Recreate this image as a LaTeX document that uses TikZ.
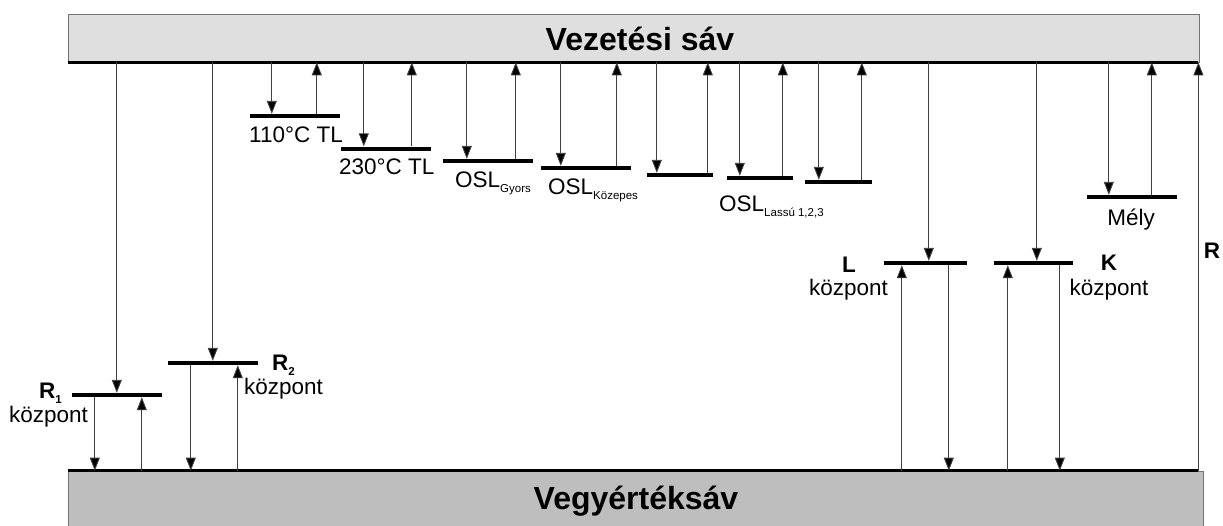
\documentclass[tikz,border=0pt]{standalone}
\usepackage{fontspec}
\setmainfont{Liberation Sans}
\usetikzlibrary{arrows.meta}
\definecolor{cbfill}{HTML}{DFDFDF}
\definecolor{vbfill}{HTML}{BEBEBE}
\tikzset{
  lvl/.style={fill=black, inner sep=0pt, minimum height=4pt, minimum width=#1},
  band/.style={draw=black!55, line width=0.8pt, inner sep=0pt},
  arr/.style={draw=black!75, line width=0.9pt, -{Triangle[width=10pt,length=13pt,fill=black]}},
  lbl/.style={font=\fontsize{22.5}{26}\selectfont, inner sep=0pt},
  blbl/.style={font=\fontsize{22.5}{26}\selectfont\bfseries, inner sep=0pt},
  title/.style={font=\fontsize{32}{36}\selectfont\bfseries, inner sep=0pt},
  edge/.style={line width=3pt}
}
\newcommand{\smallsub}[1]{\raisebox{-0.45ex}{\fontsize{11.5}{12}\selectfont #1}}
\begin{document}
\begin{tikzpicture}[x=1pt,y=-1pt]
\useasboundingbox (0,0) rectangle (1223,525);
% bands
\node[band, fill=cbfill, minimum width=1131pt, minimum height=48pt] (cb) at (633.5,38) {};
\node[title] (cbt) at (640,39) {Vezetési sáv};
\node[band, fill=vbfill, minimum width=1135pt, minimum height=70pt] (vb) at (635.5,506) {};
\node[title] (vbt) at (636,501) {Vegyértéksáv};
\draw[edge] (cb.south west) -- ([xshift=-1pt]cb.south east);
\draw[edge] (vb.north west) -- ([xshift=-5pt]vb.north east);
% levels
\node[lvl=90pt] (tl110) at (295,116) {};
\node[lvl=90pt] (tl230) at (386,148.5) {};
\node[lvl=90pt] (gy) at (488,161) {};
\node[lvl=90pt] (koz) at (586,168) {};
\node[lvl=66pt] (o5) at (680,175) {};
\node[lvl=66pt] (o6) at (760,178) {};
\node[lvl=67pt] (o7) at (838.5,182) {};
\node[lvl=90pt] (mely) at (1132,197) {};
\node[lvl=83pt] (lc) at (925.5,263) {};
\node[lvl=79pt] (kc) at (1033.5,263) {};
\node[lvl=90pt] (r1) at (117,395) {};
\node[lvl=90pt] (r2) at (213,363) {};
% trap arrows (down = capture, up = release)
\foreach \n/\d/\u in {tl110/22/67, tl230/23/71, gy/24/73, koz/20/76, o5/10/61, o6/13/56, o7/14/57, mely/22/65}{
  \draw[arr] ([xshift=\d pt]\n.north west |- cb.south) -- ([xshift=\d pt]\n.north west);
  \draw[arr] ([xshift=\u pt]\n.north west) -- ([xshift=\u pt]\n.north west |- cb.south);
}
% recombination centres
\foreach \n/\t/\u/\d in {lc/45/18/65, kc/43/14/66, r1/45/70/23, r2/45/70/23}{
  \draw[arr] ([xshift=\t pt]\n.north west |- cb.south) -- ([xshift=\t pt]\n.north west);
  \draw[arr] ([xshift=\u pt]\n.south west |- vb.north) -- ([xshift=\u pt]\n.south west);
  \draw[arr] ([xshift=\d pt]\n.south west) -- ([xshift=\d pt]\n.south west |- vb.north);
}
\coordinate (rb) at ([xshift=-5pt]vb.north east);
\draw[arr] (rb) -- (rb |- cb.south);
% labels
\node[lbl, anchor=base west] (l110) at (249,142) {110°C TL};
\node[lbl, anchor=base west] (l230) at (339,174) {230°C TL};
\node[lbl, anchor=base west] (lgy) at (455,187) {OSL\smallsub{Gyors}};
\node[lbl, anchor=base west] (lkoz) at (548,194) {OSL\smallsub{Közepes}};
\node[lbl, anchor=base west] (llas) at (719,211) {OSL\smallsub{Lassú 1,2,3}};
\node[lbl, anchor=base] (lmely) at (1131,225) {Mély};
\node[blbl, anchor=base] (lL) at (849,272) {L};
\node[lbl, anchor=base east] (lLk) at (888,295) {központ};
\node[blbl, anchor=base] (lK) at (1109,270) {K};
\node[lbl, anchor=base] (lKk) at (1109,295) {központ};
\node[blbl, anchor=base] (lR) at (1212,258) {R};
\node[blbl, anchor=base west] (lR1) at (39,398) {R\smallsub{1}};
\node[lbl, anchor=base west] (lR1k) at (9,422) {központ};
\node[blbl, anchor=base west] (lR2) at (272,370) {R\smallsub{2}};
\node[lbl, anchor=base west] (lR2k) at (244,394) {központ};
\end{tikzpicture}
\end{document}
